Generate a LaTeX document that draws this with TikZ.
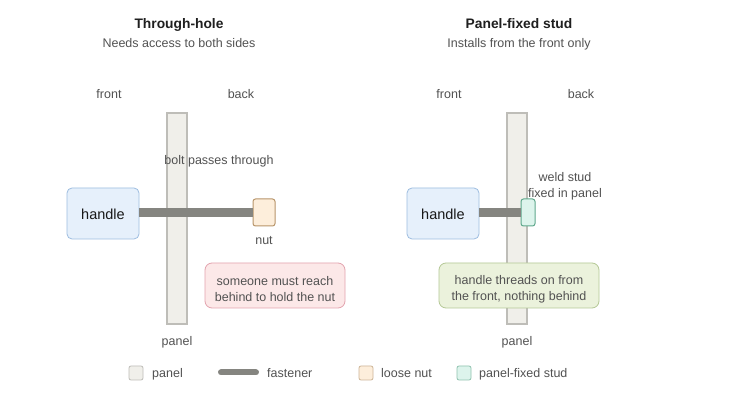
\documentclass[tikz,border=0pt]{standalone}
\usepackage{fontspec}
\setmainfont{Liberation Sans}
\begin{document}
\begin{tikzpicture}[x=1pt,y=-1pt,
  lbl/.style={text=black!68, font=\fontsize{12.5}{16}\selectfont, inner sep=0pt, text height=11.5pt, text depth=1pt},
  ttl/.style={text=black!88, font=\fontsize{13.8}{16}\selectfont\bfseries, inner sep=0pt, text height=12pt, text depth=1pt},
  panelbox/.style={line width=1.2pt},
  handlebox/.style={rounded corners=5pt, line width=0.8pt, font=\fontsize{14.5}{16}\selectfont, text=black!90, minimum width=72pt, minimum height=51pt, inner sep=0pt, text height=12.5pt, text depth=1pt},
  bolt/.style={line width=9pt},
  nutbox/.style={rounded corners=2.5pt, line width=1pt, minimum width=22pt, minimum height=27pt, inner sep=0pt},
  studbox/.style={rounded corners=2.5pt, line width=1pt, minimum width=14pt, minimum height=27pt, inner sep=0pt},
  notebox/.style={rounded corners=7pt, line width=0.8pt, inner sep=0pt, minimum height=45pt},
  notetext/.style={align=center, text=black!68, font=\fontsize{12.5}{16}\selectfont, inner sep=0pt},
  swatch/.style={rounded corners=2pt, line width=0.8pt, minimum width=14pt, minimum height=14pt, inner sep=0pt}
]
\definecolor{handleborder}{HTML}{9DBDE0}
\definecolor{handlefill}{HTML}{E6F0FB}
\definecolor{panelfill}{HTML}{F0EFEA}
\definecolor{panelborder}{HTML}{BEBDB8}
\definecolor{boltc}{HTML}{858580}
\definecolor{nutfill}{HTML}{FDEEDB}
\definecolor{nutborder}{HTML}{B8956A}
\definecolor{studfill}{HTML}{DDF4EC}
\definecolor{studborder}{HTML}{5FA88C}
\definecolor{redfill}{HTML}{FCE8E8}
\definecolor{redborder}{HTML}{E3A3AE}
\definecolor{grnfill}{HTML}{EBF2DC}
\definecolor{grnborder}{HTML}{B5C896}
\useasboundingbox[fill=white] (0,0) rectangle (740,406);

% ---------- left: through-hole ----------
\node[ttl] (t1) at (179,23) {Through-hole};
\node[lbl] (s1) at (179,42) {Needs access to both sides};
\node[lbl] (f1) at (109,93) {front};
\node[lbl] (b1) at (241,93) {back};
\draw[panelbox, draw=panelborder, fill=panelfill] (167,113) rectangle (187,324);
\node[lbl] (pl1) at (177,340) {panel};
\node[handlebox, draw=handleborder, fill=handlefill] (h1) at (103,213.5) {handle};
\node[nutbox, draw=nutborder, fill=nutfill] (n1) at (264,212.5) {};
\draw[bolt, draw=boltc] (h1.east |- 0,212.5) -- (n1.west);
\node[lbl] (bp) at (219,159) {bolt passes through};
\node[lbl] (nl) at (264,239) {nut};
\node[notebox, draw=redborder, fill=redfill, minimum width=140pt] (r1) at (275,285.5) {};
\node[notetext] (r1t) at ([yshift=-3.3pt]r1.center) {someone must reach\\behind to hold the nut};

% ---------- right: panel-fixed stud ----------
\node[ttl] (t2) at (519,23) {Panel-fixed stud};
\node[lbl] (s2) at (519,42) {Installs from the front only};
\node[lbl] (f2) at (449,93) {front};
\node[lbl] (b2) at (581,93) {back};
\draw[panelbox, draw=panelborder, fill=panelfill] (507,113) rectangle (527,324);
\node[lbl] (pl2) at (517,340) {panel};
\node[handlebox, draw=handleborder, fill=handlefill] (h2) at (443,213.5) {handle};
\node[studbox, draw=studborder, fill=studfill] (st) at (528,212.5) {};
\draw[bolt, draw=boltc] (h2.east |- 0,212.5) -- (st.west);
\node[lbl] (ws1) at (565,176) {weld stud};
\node[lbl] (ws2) at (565,192) {fixed in panel};
\node[notebox, draw=grnborder, fill=grnfill, minimum width=160pt] (g1) at (519,285.5) {};
\node[notetext] (g1t) at ([yshift=-3.3pt]g1.center) {handle threads on from\\the front, nothing behind};

% ---------- legend ----------
\node[swatch, draw=panelborder, fill=panelfill] (lg1) at (136,373) {};
\node[lbl, anchor=west] (lt1) at (152,372.5) {panel};
\coordinate (lf1) at (221,372.5);
\coordinate (lf2) at (256,372.5);
\draw[draw=boltc, line width=6pt, line cap=round] (lf1) -- (lf2);
\node[lbl, anchor=west] (lt2) at (267,372.5) {fastener};
\node[swatch, draw=nutborder!70, fill=nutfill] (lg3) at (366,373) {};
\node[lbl, anchor=west] (lt3) at (381,372.5) {loose nut};
\node[swatch, draw=studborder!70, fill=studfill] (lg4) at (464,373) {};
\node[lbl, anchor=west] (lt4) at (479,372.5) {panel-fixed stud};
\end{tikzpicture}
\end{document}
